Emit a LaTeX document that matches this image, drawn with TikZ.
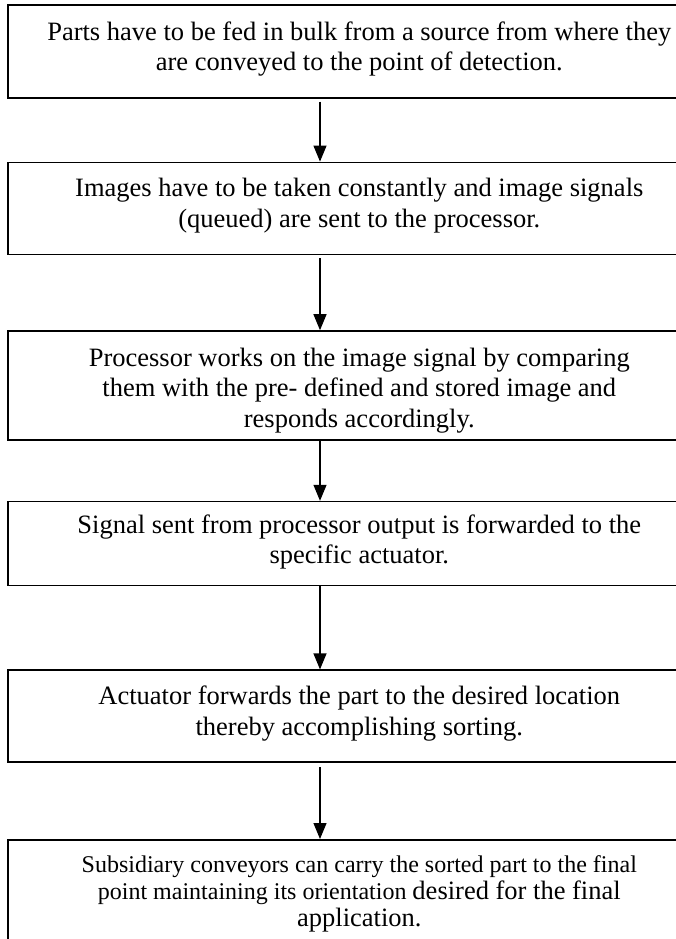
\documentclass[tikz,border=0pt]{standalone}
\usepackage{fontspec}
\setmainfont{Liberation Serif}
\usetikzlibrary{positioning,arrows.meta}
\tikzset{
  stepbox/.style={draw, line width=1.6pt, inner xsep=0pt, inner ysep=0pt,
                  minimum width=703pt, align=center,
                  font=\fontsize{26.5}{30.5}\selectfont},
  smallbox/.style={stepbox, font=\fontsize{24}{27}\selectfont},
  flow/.style={-{Triangle[length=16pt,width=13pt]}, line width=1.2pt},
}
\newcommand{\bigtxt}{\fontsize{26.5}{27}\selectfont}

\begin{document}
\begin{tikzpicture}[x=1pt,y=-1pt]
  \useasboundingbox (0,0) rectangle (676,939);
  \coordinate (ax) at (320,0);
  \node[stepbox, anchor=north west, text height=66pt, text depth=27pt] (feed) at (7,4)
    {Parts have to be fed in bulk from a source from where they\\ are conveyed to the point of detection.};
  \node[stepbox, text height=65pt, text depth=27pt, below=63pt of feed] (img)
    {Images have to be taken constantly and image signals\\ (queued) are sent to the processor.};
  \node[stepbox, text height=96pt, text depth=13pt, below=75pt of img] (proc)
    {Processor works on the image signal by comparing\\ them with the pre- defined and stored image and\\ responds accordingly.};
  \node[stepbox, text height=62pt, text depth=22pt, below=60pt of proc] (sig)
    {Signal sent from processor output is forwarded to the\\ specific actuator.};
  \node[stepbox, text height=65pt, text depth=27pt, below=83pt of sig] (act)
    {Actuator forwards the part to the desired location\\ thereby accomplishing sorting.};
  \node[smallbox, text height=87pt, text depth=100pt, below=76pt of act] (sub)
    {Subsidiary conveyors can carry the sorted part to the final\\ point maintaining its orientation {\bigtxt desired for the final}\\ {\bigtxt application.}};
  \draw[flow, shorten <=3pt] (feed.south -| ax) -- (img.north -| ax);
  \draw[flow, shorten <=3pt] (img.south -| ax) -- (proc.north -| ax);
  \draw[flow] (proc.south -| ax) -- (sig.north -| ax);
  \draw[flow] (sig.south -| ax) -- (act.north -| ax);
  \draw[flow, shorten <=4pt] (act.south -| ax) -- (sub.north -| ax);
\end{tikzpicture}
\end{document}
